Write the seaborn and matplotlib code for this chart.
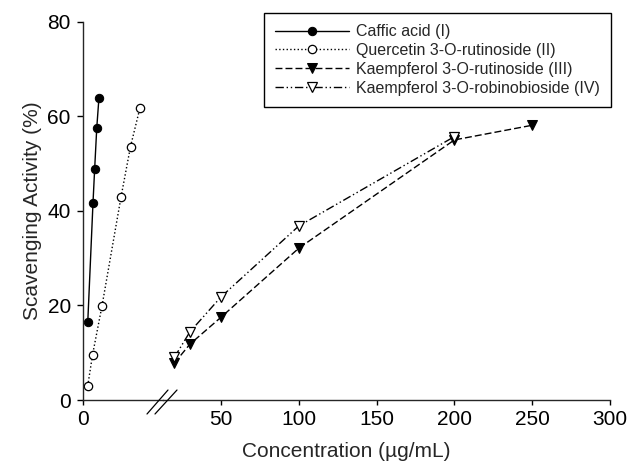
import matplotlib
matplotlib.use("Agg")
import matplotlib.pyplot as plt
from matplotlib.lines import Line2D
import seaborn as sns

# valores (eje x cortado: tramo corto a la izquierda)
caffeic_x = [1.0, 2.1, 2.45, 2.9, 3.35]
caffeic_y = [16.4, 41.6, 48.8, 57.6, 63.8]
quercetin_x = [1, 2, 4, 8, 10, 12]
quercetin_y = [3.0, 9.5, 19.9, 42.9, 53.6, 61.8]
kaemp_rut_x = [20, 30, 50, 100, 200, 250]
kaemp_rut_y = [7.8, 11.8, 17.5, 32.1, 55.0, 58.1]
kaemp_rob_x = [20, 30, 50, 100, 200]
kaemp_rob_y = [9.0, 14.4, 21.8, 36.8, 55.7]

labels = ["Caffic acid (I)", "Quercetin 3-O-rutinoside (II)",
          "Kaempferol 3-O-rutinoside (III)", "Kaempferol 3-O-robinobioside (IV)"]
right_ticks = [50, 100, 150, 200, 250, 300]
y_ticks = [0, 20, 40, 60, 80]

sns.set_style("ticks")
plt.rcParams["font.family"] = ["Liberation Sans", "DejaVu Sans"]

W, H = 628, 463
fig = plt.figure(figsize=(W / 100, H / 100), dpi=100)

# posiciones en pixeles del original
x0, xbrk, x1 = 83, 163, 610
ybot, ytop = 400, 21.7
L, M, R = x0 / W, xbrk / W, x1 / W
B, T = 1 - ybot / H, 1 - ytop / H

ax_l = fig.add_axes([L, B, M - L, T - B])
ax_r = fig.add_axes([M, B, R - M, T - B], sharey=ax_l)

common = dict(color="k", lw=1.0, errorbar=None, legend=False, clip_on=False)

sns.lineplot(x=caffeic_x, y=caffeic_y, ax=ax_l, marker="o", markersize=6,
             markerfacecolor="k", markeredgecolor="k", linestyle="-",
             label=labels[0], **common)
sns.lineplot(x=quercetin_x, y=quercetin_y, ax=ax_l, marker="o", markersize=6,
             markerfacecolor="white", markeredgecolor="k", markeredgewidth=0.9,
             linestyle=":", label=labels[1], **common)
sns.lineplot(x=kaemp_rut_x, y=kaemp_rut_y, ax=ax_r, marker="v", markersize=7,
             markerfacecolor="k", markeredgecolor="k", linestyle=(0, (5, 2.2)),
             label=labels[2], **common)
sns.lineplot(x=kaemp_rob_x, y=kaemp_rob_y, ax=ax_r, marker="v", markersize=7,
             markerfacecolor="white", markeredgecolor="k", markeredgewidth=0.9,
             linestyle=(0, (6, 2, 1, 2, 1, 2)), label=labels[3], **common)

# escalas: tramo izquierdo 4.75 px/unidad, derecho 1.556 px/unidad
ax_l.set_xlim(0, (xbrk - x0) / 4.75)
px_per = (x1 - 221) / 250
ax_r.set_xlim(50 - (221 - xbrk) / px_per, 300)
ax_l.set_ylim(0, 80)

ax_l.set_xticks([0])
ax_r.set_xticks(right_ticks)
ax_l.set_yticks(y_ticks)

for ax in (ax_l, ax_r):
    ax.set_xlabel("")
    ax.set_ylabel("")
    ax.patch.set_alpha(0)
    for s in ["top", "right"]:
        ax.spines[s].set_visible(False)
    ax.spines["bottom"].set_linewidth(1.0)
    ax.tick_params(axis="x", direction="out", length=3.5, width=1.0, pad=4,
                   labelsize=15, color="k", labelcolor="k")
ax_r.spines["left"].set_visible(False)
ax_r.tick_params(axis="y", left=False, labelleft=False)
ax_l.spines["left"].set_linewidth(1.0)
ax_l.tick_params(axis="y", direction="out", length=4.3, width=1.0, pad=4.5,
                 labelsize=15, color="k", labelcolor="k")

# marca de corte del eje
for xa, xb in [(147, 168), (155, 177)]:
    fig.add_artist(Line2D([xa / W, xb / W], [1 - 414 / H, 1 - 390 / H],
                          transform=fig.transFigure, color="k", lw=0.9))

fig.text(33 / W, (B + T) / 2, "Scavenging Activity (%)", rotation=90,
         ha="center", va="center", fontsize=15)
fig.text((L + R) / 2, 1 - 457 / H, "Concentration (\u00b5g/mL)",
         ha="center", va="baseline", fontsize=15)

handles = ax_l.get_legend_handles_labels()[0] + ax_r.get_legend_handles_labels()[0]
leg = fig.legend(handles, labels, loc="upper right",
                 bbox_to_anchor=(611 / W, 1 - 13 / H), bbox_transform=fig.transFigure,
                 borderaxespad=0, fontsize=11.5, frameon=True, fancybox=False,
                 edgecolor="k", framealpha=1, handlelength=4.6, handletextpad=0.45,
                 labelspacing=0.24, borderpad=0.7, numpoints=1)
leg.get_frame().set_linewidth(1.0)

fig.savefig("out.png", dpi=100)
